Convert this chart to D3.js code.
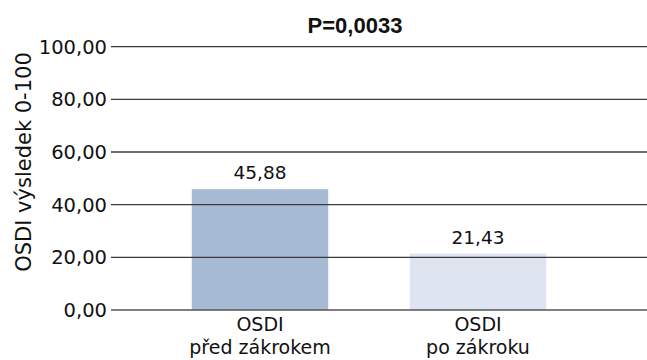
<!DOCTYPE html>
<html><head><meta charset="utf-8">
<script src="https://cdn.jsdelivr.net/npm/d3@7"></script>
<style>body{margin:0;background:#fff}svg{display:block}</style>
</head><body>
<svg id="c" width="647" height="360"></svg>
<script>
const categories = [["OSDI","před zákrokem"],["OSDI","po zákroku"]];
const values = [45.88, 21.43];
const barColors = ["#a6bad4", "#dfe5f0"];
const yTicks = [0, 20, 40, 60, 80, 100];
const title = "P=0,0033";
const yLabel = "OSDI výsledek 0-100";

const svg = d3.select("#c");
const font = "'DejaVu Sans', sans-serif";
const y = d3.scaleLinear().domain([0, 100]).range([310, 46.7]);
const x = d3.scaleBand().domain(d3.range(values.length)).range([151, 587]).paddingInner(0.374).paddingOuter(0.187);
const fmt = v => d3.format(".2f")(v).replace(".", ",");

// bars
svg.append("g").selectAll("rect").data(values).join("rect")
  .attr("x", (d, i) => x(i)).attr("width", x.bandwidth())
  .attr("y", d => y(d)).attr("height", d => y(0) - y(d))
  .attr("fill", (d, i) => barColors[i]);

// gridlines
svg.append("g").selectAll("line").data(yTicks).join("line")
  .attr("x1", 111).attr("x2", 647)
  .attr("y1", d => y(d)).attr("y2", d => y(d))
  .attr("stroke", d => d === 0 ? "#555" : "#3a3a3a").attr("stroke-width", 1.3);

// y tick labels
svg.append("g").selectAll("text").data(yTicks).join("text")
  .attr("x", 107).attr("y", d => y(d)).attr("dy", "0.36em")
  .attr("text-anchor", "end").attr("font-family", font).attr("font-size", 19.5)
  .attr("fill", "#111").text(d => fmt(d));

// value labels
svg.append("g").selectAll("text").data(values).join("text")
  .attr("x", (d, i) => x(i) + x.bandwidth() / 2).attr("y", d => y(d) - 10)
  .attr("text-anchor", "middle").attr("font-family", font).attr("font-size", 18.5)
  .attr("fill", "#111").text(d => fmt(d));

// category labels
const cat = svg.append("g").selectAll("text").data(categories).join("text")
  .attr("text-anchor", "middle").attr("font-family", font).attr("font-size", 19).attr("fill", "#111");
cat.selectAll("tspan").data((d, i) => d.map(s => ({s, i}))).join("tspan")
  .attr("x", d => x(d.i) + x.bandwidth() / 2)
  .attr("y", (d, j) => 331 + j * 22.5)
  .text(d => d.s);

// title
svg.append("text").attr("x", 355).attr("y", 33).attr("text-anchor", "middle")
  .attr("font-family", "'Liberation Sans', Arial, sans-serif").attr("font-weight", "bold")
  .attr("font-size", 22).attr("fill", "#111").text(title);

// y axis label
svg.append("text").attr("transform", "translate(31,162) rotate(-90)")
  .attr("text-anchor", "middle").attr("font-family", font).attr("font-size", 21)
  .attr("fill", "#111").text(yLabel);
</script>
</body></html>
